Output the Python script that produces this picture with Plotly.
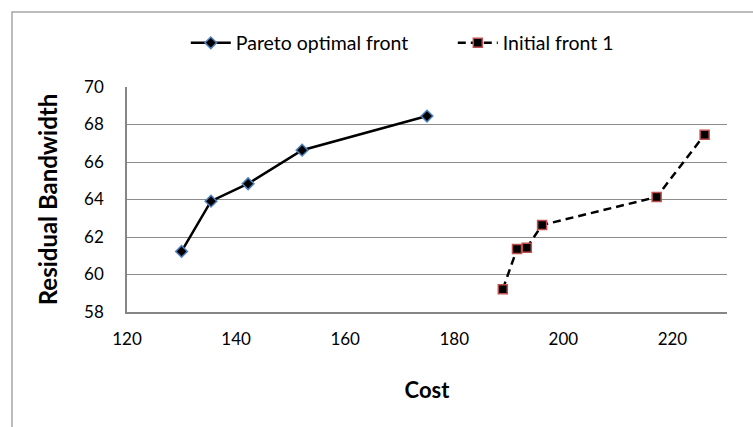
import plotly.graph_objects as go

# Pareto optimal front
pareto_cost = [130.0, 135.4, 142.2, 152.1, 175.0]
pareto_bw = [61.23, 63.91, 64.84, 66.63, 68.45]

# Initial front 1
initial_cost = [188.9, 191.5, 193.3, 196.1, 217.1, 225.9]
initial_bw = [59.22, 61.36, 61.43, 62.64, 64.13, 67.46]

x_ticks = [120, 140, 160, 180, 200, 220]
y_ticks = [58, 60, 62, 64, 66, 68, 70]

font_family = "Lato, Carlito, 'Liberation Sans', sans-serif"

fig = go.Figure()
fig.add_trace(go.Scatter(
    x=pareto_cost, y=pareto_bw, mode="lines+markers", name="Pareto optimal front",
    line=dict(color="black", width=2.5),
    marker=dict(symbol="diamond", size=9, color="black",
                line=dict(color="#4f81bd", width=1.5)),
))
fig.add_trace(go.Scatter(
    x=initial_cost, y=initial_bw, mode="lines+markers", name="Initial front 1",
    line=dict(color="black", width=2.5, dash="8px,5px"),
    marker=dict(symbol="square", size=9, color="black",
                line=dict(color="#c0504d", width=1.5)),
))

# outer chart frame (extends past the page edges on the right and bottom)
fig.add_shape(type="rect", xref="paper", yref="paper",
              x0=-0.1917, y0=-1.0, x1=1.2, y1=1.333,
              line=dict(color="#a6a6a6", width=1.5), layer="below")

fig.update_layout(
    width=753, height=427,
    margin=dict(l=127, r=26, t=87, b=115),
    paper_bgcolor="white", plot_bgcolor="white",
    font=dict(family=font_family, size=17, color="black"),
    showlegend=True,
    legend=dict(orientation="h", x=0.098, xanchor="left",
                yref="container", y=0.899, yanchor="middle",
                font=dict(size=19.5), itemwidth=40, entrywidth=212,
                bgcolor="rgba(0,0,0,0)"),
    xaxis=dict(range=[120, 230], tickvals=x_ticks, showgrid=False, zeroline=False,
               showline=True, linecolor="#868686", linewidth=1.5, automargin=False,
               ticks="", tickfont=dict(size=17), ticklabelstandoff=11,
               title=dict(text="<b>Cost</b>", font=dict(size=22), standoff=34)),
    yaxis=dict(range=[58, 70], tickvals=y_ticks, showgrid=True, gridcolor="#8c8c8c",
               gridwidth=1.2, zeroline=False, showline=True, linecolor="#868686",
               linewidth=1.5, automargin=False, ticks="", tickfont=dict(size=17),
               ticklabelstandoff=18,
               title=dict(text="<b>Residual Bandwidth</b>", font=dict(size=24), standoff=20)),
)

fig.write_html("out.html")
